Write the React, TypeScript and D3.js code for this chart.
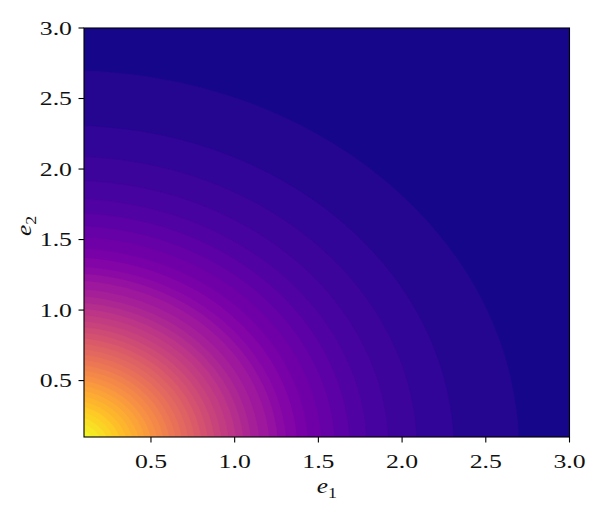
import React from "react";
import * as d3 from "d3";

// Axis ticks
const xTicks = [0.5, 1.0, 1.5, 2.0, 2.5, 3.0];
const yTicks = [0.5, 1.0, 1.5, 2.0, 2.5, 3.0];
const xDomain = [0.1, 3.0];
const yDomain = [0.1, 3.0];

// Contour boundary radii (outermost first)
const levelRadii = [
  2.70, 2.31, 2.09, 1.92, 1.79, 1.69, 1.60, 1.52, 1.44, 1.375, 1.31, 1.26, 1.21,
  1.15, 1.10, 1.055, 1.012, 0.968, 0.925, 0.884, 0.844, 0.805, 0.766, 0.728,
  0.690, 0.653, 0.616, 0.580, 0.544, 0.508, 0.472, 0.436, 0.40, 0.364, 0.328,
  0.292, 0.255, 0.217, 0.178,
];
const nBands = 40;

const W = 598;
const H = 532;
const left = 84;
const right = 569.5;
const top = 28;
const bottom = 437;
const SX = 1.32;

export default function App() {
  const x = d3.scaleLinear().domain(xDomain).range([left, right]);
  const y = d3.scaleLinear().domain(yDomain).range([bottom, top]);
  const color = (k: number) => d3.interpolatePlasma((k + 0.5) / nBands);
  const font = "'Liberation Serif', 'DejaVu Serif', serif";

  return (
    <svg
      width={W}
      height={H}
      style={{ position: "absolute", left: 0, top: 0, background: "#fff" }}
    >
      <defs>
        <clipPath id="plotclip">
          <rect x={left} y={top} width={right - left} height={bottom - top} />
        </clipPath>
      </defs>
      <g clipPath="url(#plotclip)">
        <rect x={left} y={top} width={right - left} height={bottom - top} fill={color(0)} />
        {levelRadii.map((r, i) => (
          <ellipse
            key={i}
            cx={x(0)}
            cy={y(0)}
            rx={x(r) - x(0)}
            ry={y(0) - y(r)}
            fill={color(i + 1)}
            stroke={color(i + 1)}
            strokeWidth={0.3}
          />
        ))}
      </g>
      <rect
        x={left}
        y={top}
        width={right - left}
        height={bottom - top}
        fill="none"
        stroke="#000"
        strokeWidth={1.1}
      />
      {xTicks.map((t) => (
        <g key={"x" + t}>
          <line x1={x(t)} x2={x(t)} y1={bottom} y2={bottom + 5.5} stroke="#000" strokeWidth={1.1} />
          <text
            transform={`translate(${x(t)},${bottom + 31}) scale(${SX},1)`}
            textAnchor="middle"
            fontFamily={font}
            fontSize={19.5}
            fill="#111"
          >
            {t.toFixed(1)}
          </text>
        </g>
      ))}
      {yTicks.map((t) => (
        <g key={"y" + t}>
          <line x1={left - 5.5} x2={left} y1={y(t)} y2={y(t)} stroke="#000" strokeWidth={1.1} />
          <text
            transform={`translate(${left - 12},${y(t) + 6.5}) scale(${SX},1)`}
            textAnchor="end"
            fontFamily={font}
            fontSize={19.5}
            fill="#111"
          >
            {t.toFixed(1)}
          </text>
        </g>
      ))}
      <text
        transform={`translate(${(left + right) / 2},${493}) scale(1.15,1)`}
        textAnchor="middle"
        fontFamily={font}
        fontSize={22}
        fill="#111"
      >
        <tspan fontStyle="italic">e</tspan>
        <tspan fontSize={15.5} dy={5}>1</tspan>
      </text>
      <text
        transform={`translate(31, ${226}) rotate(-90) scale(1.15,1)`}
        textAnchor="middle"
        fontFamily={font}
        fontSize={22}
        fill="#111"
      >
        <tspan fontStyle="italic">e</tspan>
        <tspan fontSize={15.5} dy={5}>2</tspan>
      </text>
    </svg>
  );
}
